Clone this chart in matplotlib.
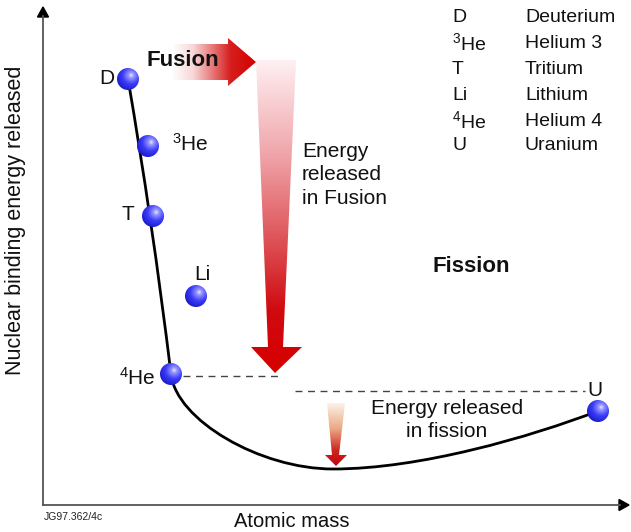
import numpy as np
import matplotlib
matplotlib.use('Agg')
import matplotlib.pyplot as plt
from matplotlib.path import Path
from matplotlib.patches import PathPatch, Polygon, Circle

plt.rcParams['font.family'] = ['Liberation Sans', 'DejaVu Sans']
plt.rcParams['mathtext.fontset'] = 'custom'
plt.rcParams['mathtext.rm'] = 'Liberation Sans'

# Schematic data (picture units: x to the right, y downwards)
nuclides = ['D', '$\\mathregular{^3}$He', 'T', 'Li', '$\\mathregular{^4}$He', 'U']
names = ['Deuterium', 'Helium 3', 'Tritium', 'Lithium', 'Helium 4', 'Uranium']
nuc_x = [128, 148, 153, 196, 171, 598]
nuc_y = [79, 146, 216, 296, 374, 411]
label_x = [114, 172, 134, 202, 156, 595]
label_y = [78, 144, 215, 275, 378, 390]
label_ha = ['right', 'left', 'right', 'center', 'right', 'center']

# binding energy curve (bezier vertices): D -> 4He -> minimum -> U
curve_pts = [(128, 79), (152, 218), (171, 374),
             (176, 420), (260, 469), (333, 469),
             (420, 469), (530, 437), (598, 411)]
curve_codes = [Path.MOVETO, Path.CURVE3, Path.CURVE3,
               Path.CURVE4, Path.CURVE4, Path.CURVE4,
               Path.CURVE4, Path.CURVE4, Path.CURVE4]

legend_rows = [17, 43, 69, 95, 121, 146]

fig = plt.figure(figsize=(6.31, 5.32), dpi=100)
ax = fig.add_axes([0, 0, 1, 1])
ax.set_xlim(0, 631)
ax.set_ylim(532, 0)
ax.axis('off')

# axes with arrow heads
ax.plot([43, 43], [505, 16], color='#555555', lw=1.3)
ax.add_patch(Polygon([(37.5, 17), (48.5, 17), (43, 7)], closed=True, color='black'))
ax.plot([43, 620], [505, 505], color='#555555', lw=1.3)
ax.add_patch(Polygon([(619, 499.5), (619, 510.5), (629, 505)], closed=True, color='black'))

ax.text(16, 220, 'Nuclear binding energy released', rotation=90, ha='center', va='center', fontsize=15.5, color='#111111')
ax.text(292, 512, 'Atomic mass', ha='center', va='top', fontsize=14.5, color='#111111')
ax.text(44, 517, 'JG97.362/4c', ha='left', va='center', fontsize=7.5, color='#222222')


def gradient_patch(verts, stops, horizontal=False):
    """fill polygon verts with a linear colour gradient"""
    verts = np.array(verts, dtype=float)
    x0, x1 = verts[:, 0].min(), verts[:, 0].max()
    y0, y1 = verts[:, 1].min(), verts[:, 1].max()
    pos = np.array([s[0] for s in stops])
    cols = np.array([s[1] for s in stops], dtype=float) / 255.0
    t = np.linspace(0, 1, 200)
    grad = np.stack([np.interp(t, pos, cols[:, k]) for k in range(3)], axis=-1)
    if horizontal:
        img = grad[np.newaxis, :, :].repeat(4, axis=0)
    else:
        img = grad[:, np.newaxis, :].repeat(4, axis=1)
    im = ax.imshow(img, extent=[x0, x1, y1, y0], origin='upper', aspect='auto',
                   interpolation='bilinear', zorder=2)
    poly = Polygon(verts, closed=True, facecolor='none', edgecolor='none')
    ax.add_patch(poly)
    im.set_clip_path(poly)


# Fusion arrow (horizontal)
fusion_arrow = [(172, 44), (228, 44), (228, 38), (256, 62), (228, 86), (228, 80), (172, 80)]
gradient_patch(fusion_arrow, [(0, (255, 255, 255)), (0.25, (248, 215, 215)),
                              (0.7, (215, 30, 30)), (1, (212, 0, 0))], horizontal=True)
ax.text(147, 60, 'Fusion', ha='left', va='center', fontsize=16, fontweight='bold', color='#111111', zorder=4)

# energy released in fusion (vertical tapered arrow)
fusion_drop = [(256, 60), (296, 60), (283, 347), (302, 347), (275, 373), (251, 347), (268, 347)]
gradient_patch(fusion_drop, [(0, (254, 240, 242)), (0.3, (240, 165, 170)),
                             (0.6, (220, 75, 80)), (0.8, (208, 10, 15)), (1, (214, 0, 0))])
ax.text(302, 175, 'Energy\nreleased\nin Fusion', ha='left', va='center', fontsize=15,
        linespacing=1.3, color='#111111')

# energy released in fission (small arrow)
fission_drop = [(327, 403), (345, 403), (339, 455), (347, 455), (336, 466), (325, 455), (332, 455)]
gradient_patch(fission_drop, [(0, (252, 242, 230)), (0.4, (234, 170, 135)),
                              (0.75, (205, 40, 30)), (1, (195, 0, 20))])
ax.text(447, 420, 'Energy released\nin fission', ha='center', va='center', fontsize=15,
        linespacing=1.3, color='#111111')

ax.text(432, 267, 'Fission', ha='left', va='center', fontsize=16, fontweight='bold', color='#111111')

# dashed reference levels
ax.plot([183, 282], [376, 376], color='#444444', lw=1, dashes=(5, 4))
ax.plot([295, 585], [391, 391], color='#444444', lw=1, dashes=(5, 4))

# curve
ax.add_patch(PathPatch(Path(curve_pts, curve_codes), facecolor='none', edgecolor='black', lw=2.0, zorder=3))

# shaded spheres
r = 11
uu, vv = np.meshgrid(np.linspace(-1, 1, 61), np.linspace(-1, 1, 61))
dist = np.hypot(uu - 0.3, vv + 0.35)
shade_pos = [0, 0.25, 0.8, 1.6]
shade_col = np.array([(235, 235, 255), (150, 150, 255), (60, 60, 250), (20, 20, 190)]) / 255.0
sphere_img = np.stack([np.interp(dist, shade_pos, shade_col[:, k]) for k in range(3)], axis=-1)
for x, y in zip(nuc_x, nuc_y):
    im = ax.imshow(sphere_img, extent=[x - r, x + r, y + r, y - r], origin='upper',
                   interpolation='bilinear', zorder=5)
    c = Circle((x, y), r, facecolor='none', edgecolor='none')
    ax.add_patch(c)
    im.set_clip_path(c)

for lab, x, y, ha in zip(nuclides, label_x, label_y, label_ha):
    ax.text(x, y, lab, ha=ha, va='center', fontsize=15, color='#111111')

# key
for sym, name, y in zip(nuclides, names, legend_rows):
    ax.text(452, y, sym, ha='left', va='center', fontsize=14, color='#111111')
    ax.text(525, y, name, ha='left', va='center', fontsize=14, color='#111111')

ax.set_xlim(0, 631)
ax.set_ylim(532, 0)
fig.savefig('out.png', dpi=100)
